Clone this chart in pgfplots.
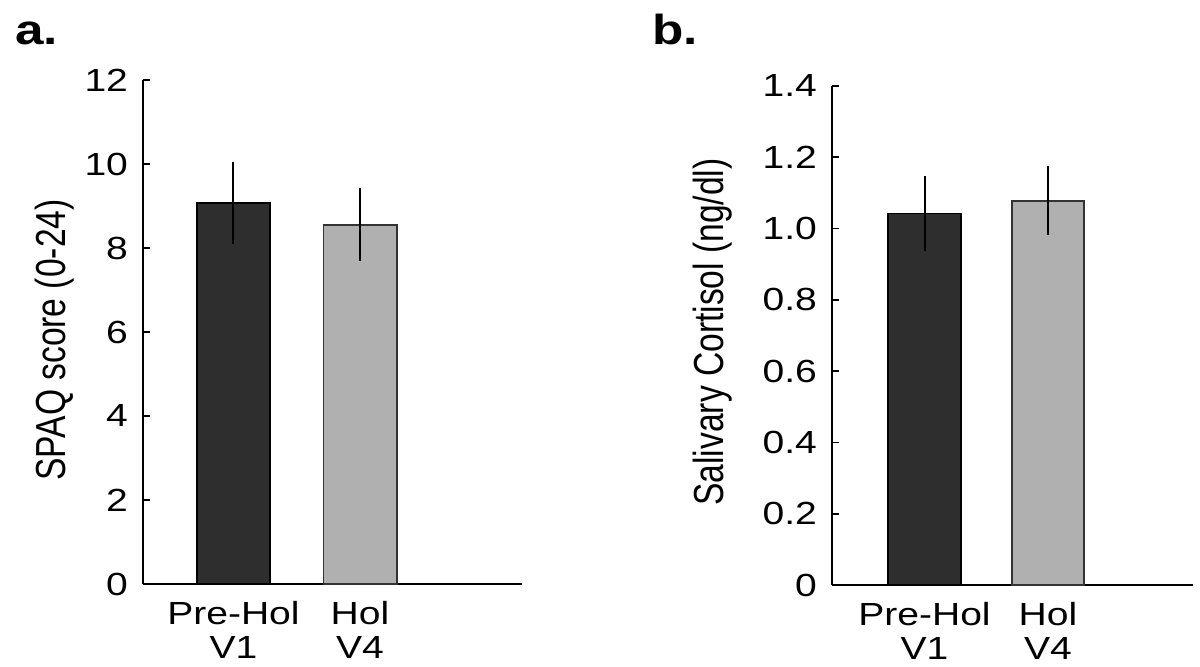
\documentclass[border=0pt]{standalone}
\usepackage{pgfplots}
\pgfplotsset{compat=1.18}
\usepackage{fontspec}
\setmainfont{Liberation Sans}
\newfontfamily\widefont{Liberation Sans}[FakeStretch=1.22]
\newfontfamily\narrowfont{Liberation Sans}[FakeStretch=0.8]
\definecolor{darkbar}{HTML}{2E2E2E}
\definecolor{lightbar}{HTML}{B0B0B0}
\pgfplotsset{
  mybars/.style={
    scale only axis,
    axis x line*=bottom,
    axis y line*=left,
    axis line style={line width=0.9pt, black},
    ymin=0,
    xtick={1,2},
    xticklabels={{Pre-Hol\\V1},{Hol\\V4}},
    x tick style={draw=none},
    xtick align=inside,
    ytick align=inside,
    major tick length=3.5pt,
    y tick style={line width=0.9pt, black},
    xticklabel style={align=center, font=\widefont\fontsize{16}{17}\selectfont, yshift=-1.5pt},
    yticklabel style={font=\widefont\fontsize{16}{17}\selectfont, xshift=-4pt},
    /pgf/number format/assume math mode=true,
    ylabel style={font=\narrowfont\fontsize{21}{24}\selectfont, anchor=center},
    ybar,
    bar shift=0pt,
    error bars/y dir=both,
    error bars/y explicit,
    error bars/error mark=none,
    error bars/error bar style={line width=1pt, black},
    clip=false,
  }
}
\begin{document}
\begin{tikzpicture}
\path[use as bounding box] (0,0) rectangle (600pt,333.5pt);

% Panel a
\begin{axis}[mybars,
  at={(71.5pt,41.5pt)}, anchor=south west,
  width=189.5pt, height=252pt,
  xmin=0.285, xmax=3.28,
  ymax=12,
  ytick={0,2,4,6,8,10,12},
  yticklabels={0,2,4,6,8,10,12},
  bar width=0.58,
  ylabel={SPAQ score (0-24)},
  ylabel style={at={(axis description cs:-0.232,0.484)}},
]
\addplot[fill=darkbar, draw=black, line width=0.8pt]
  coordinates {(1,9.07) +- (0,0.97)};
\addplot[fill=lightbar, draw=black!80, line width=0.8pt]
  coordinates {(2,8.55) +- (0,0.87)};
\end{axis}

% Panel b
\begin{axis}[mybars,
  at={(416pt,41pt)}, anchor=south west,
  width=180.5pt, height=249.5pt,
  xmin=0.251, xmax=3.174,
  ymax=1.4,
  ytick={0,0.2,0.4,0.6,0.8,1.0,1.2,1.4},
  yticklabels={0,0.2,0.4,0.6,0.8,1.0,1.2,1.4},
  bar width=0.587,
  ylabel={Salivary Cortisol (ng/dl)},
  ylabel style={at={(axis description cs:-0.332,0.507)}},
]
\addplot[fill=darkbar, draw=black, line width=0.8pt]
  coordinates {(1,1.042) +- (0,0.105)};
\addplot[fill=lightbar, draw=black!80, line width=0.8pt]
  coordinates {(2,1.078) +- (0,0.097)};
\end{axis}

\node[anchor=base west, font=\widefont\bfseries\fontsize{21}{21}\selectfont, inner sep=0pt] at (7.5pt,311pt) {a.};
\node[anchor=base west, font=\widefont\bfseries\fontsize{21}{21}\selectfont, inner sep=0pt] at (326pt,311pt) {b.};
\end{tikzpicture}
\end{document}
